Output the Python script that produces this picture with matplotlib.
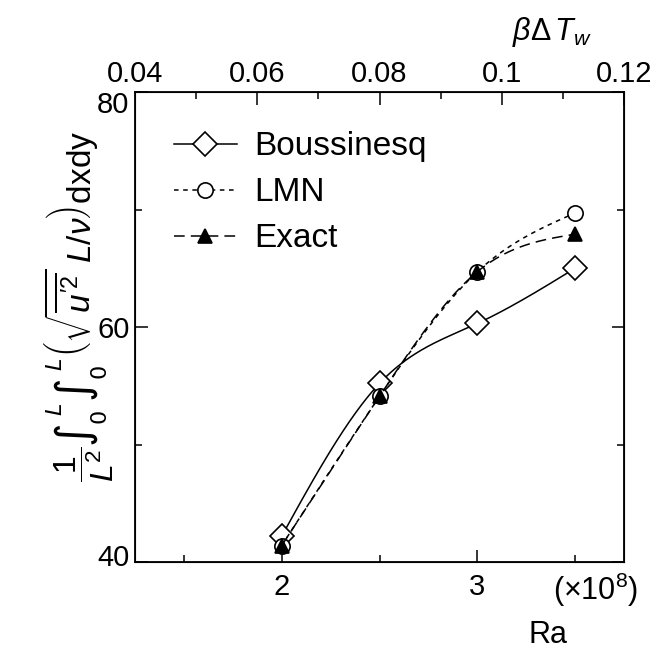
import numpy as np
import matplotlib
matplotlib.use('Agg')
import matplotlib.pyplot as plt
from matplotlib.ticker import MultipleLocator, FixedLocator
import matplotlib.transforms as mtransforms

# Rayleigh number (x 1e8) and averaged rms velocity for the three models
ra = [2.0, 2.5, 3.0, 3.5]
boussinesq = [42.2, 55.2, 60.3, 65.0]
lmn = [41.4, 54.1, 64.7, 69.7]
exact = [41.4, 54.1, 64.7, 67.9]

ra_ticks = [2, 3]
beta_ticks = [0.06, 0.08, 0.1, 0.12]
beta_labels = ['0.06', '0.08', '0.1', '0.12']

# beta*dT_w is proportional to Ra
ra_per_beta = 31.25


def smooth(x, y, n=60):
    '''Natural cubic spline through the points, used only for drawing the curve'''
    x = np.asarray(x, float)
    y = np.asarray(y, float)
    k = len(x)
    h = np.diff(x)
    A = np.zeros((k, k))
    b = np.zeros(k)
    A[0, 0] = A[-1, -1] = 1
    for i in range(1, k-1):
        A[i, i-1] = h[i-1]
        A[i, i] = 2*(h[i-1]+h[i])
        A[i, i+1] = h[i]
        b[i] = 6*((y[i+1]-y[i])/h[i] - (y[i]-y[i-1])/h[i-1])
    M = np.linalg.solve(A, b)
    xs, ys = [], []
    for i in range(k-1):
        t = np.linspace(x[i], x[i+1], n)
        a = (x[i+1]-t)/h[i]
        c = (t-x[i])/h[i]
        s = (a*y[i] + c*y[i+1]
             + ((a**3-a)*M[i] + (c**3-c)*M[i+1])*h[i]**2/6)
        xs.append(t)
        ys.append(s)
    return np.concatenate(xs), np.concatenate(ys)


plt.rcParams['font.family'] = ['Liberation Sans', 'DejaVu Sans']
plt.rcParams['mathtext.fontset'] = 'custom'
plt.rcParams['mathtext.rm'] = 'Liberation Sans'
plt.rcParams['mathtext.it'] = 'Liberation Sans:italic'
plt.rcParams['mathtext.bf'] = 'Liberation Sans:bold'

fig = plt.figure(figsize=(6.51, 6.49), dpi=100)
ax = fig.add_axes([135/651, 1-562/649, (624-135)/651, (562-92)/649])

styles = [
    (boussinesq, 'Boussinesq', '-', 'D', 'white', 12),
    (lmn, 'LMN', (0, (3, 3)), 'o', 'white', 11),
    (exact, 'Exact', (0, (7, 4)), '^', 'black', 10),
]
for vals, name, ls, mk, fc, ms in styles:
    sx, sy = smooth(ra, vals)
    ax.plot(sx, sy, color='black', lw=1.1, ls=ls)
    ax.plot(ra, vals, ls='none', marker=mk, ms=ms, mfc=fc, mec='black', mew=1.2)
    # proxy for the legend entry
    ax.plot([], [], color='black', lw=1.1, ls=ls, marker=mk, ms=ms,
            mfc=fc, mec='black', mew=1.2, label=name)

ax.set_xlim(1.25, 3.75)
ax.set_ylim(40, 80)
ax.xaxis.set_major_locator(FixedLocator(ra_ticks))
ax.xaxis.set_minor_locator(FixedLocator([1.5, 2.5, 3.5]))
ax.yaxis.set_major_locator(MultipleLocator(20))
ax.yaxis.set_minor_locator(MultipleLocator(10))
ax.tick_params(which='both', direction='in', labelsize=21, width=1.1)
ax.tick_params(which='major', length=9)
ax.tick_params(which='minor', length=5)
ax.tick_params(axis='y', which='both', right=True, pad=4)
ax.tick_params(axis='x', pad=8)
for s in ax.spines.values():
    s.set_linewidth(1.3)

# end labels of the y axis sit a little inside the range
fig.canvas.draw()
for lab in ax.get_yticklabels():
    txt = lab.get_text()
    if txt == '80':
        lab.set_transform(lab.get_transform() + mtransforms.ScaledTranslation(0, -10/100, fig.dpi_scale_trans))
    elif txt == '40':
        lab.set_transform(lab.get_transform() + mtransforms.ScaledTranslation(0, 7/100, fig.dpi_scale_trans))

# top axis in beta*dT_w
top = ax.twiny()
top.set_xlim(1.25/ra_per_beta, 3.75/ra_per_beta)
top.xaxis.set_major_locator(FixedLocator(beta_ticks))
top.xaxis.set_minor_locator(FixedLocator([0.05, 0.07, 0.09, 0.11]))
top.set_xticklabels(beta_labels)
top.tick_params(which='both', direction='in', labelsize=21, width=1.1, pad=3)
top.tick_params(which='major', length=9)
top.tick_params(which='minor', length=5)
trans = mtransforms.blended_transform_factory(top.transData, top.transAxes)
top.annotate('0.04', xy=(0.04, 1.0), xycoords=trans, xytext=(0, 3),
             textcoords='offset points', fontsize=21, ha='center',
             va='bottom', annotation_clip=False)

leg = ax.legend(loc='upper left', bbox_to_anchor=(0.052, 0.945), frameon=False,
                fontsize=24, handlelength=1.9, handletextpad=0.5,
                labelspacing=0.45, borderaxespad=0)

fig.text(552/651, 1-32/649, r'$\beta\Delta\,T_w$', fontsize=22, ha='center', va='center')
fig.text(596/651, 1-590/649, r'$(\times 10^8)$', fontsize=22, ha='center', va='center')
fig.text(548/651, 1-635/649, 'Ra', fontsize=22, ha='center', va='center')

# y label built from pieces so the integral signs can be drawn taller;
# each piece is stacked upward along a common baseline
ylabel_parts = [
    (r'$\dfrac{1}{L^2}$', 23, 'custom'),
    (r'$\int_0^{\,L}$', 23, 'dejavusans'),
    (r'$\int_0^{\,L}$', 23, 'dejavusans'),
    (r'$\left(\sqrt{\overline{u^{\prime 2}}}\;L/\nu\right)\mathrm{dxdy}$', 24, 'custom'),
]
renderer = fig.canvas.get_renderer()
base_x = 91
ypos = 649 - 482
for txt, size, mfont in ylabel_parts:
    t = fig.text(base_x/651, ypos/649, txt, fontsize=size, rotation=90,
                 rotation_mode='anchor', ha='left', va='baseline',
                 math_fontfamily=mfont)
    ext = t.get_window_extent(renderer)
    ypos += ext.height

fig.savefig('out.png', dpi=100)
